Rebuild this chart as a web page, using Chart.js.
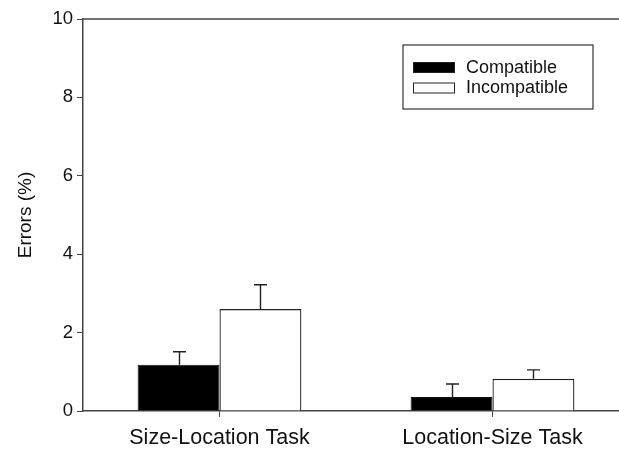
<!DOCTYPE html>
<html>
<head>
<meta charset="utf-8">
<script src="https://cdn.jsdelivr.net/npm/chart.js@4.4.1/dist/chart.umd.min.js"></script>
<style>
  html, body { margin: 0; padding: 0; background: #fff; overflow: hidden; }
  #wrap { width: 630px; height: 450px; position: relative; }
</style>
</head>
<body>
<div id="wrap"><canvas id="c" width="630" height="450"></canvas></div>
<script>
const categories = ['Size-Location Task', 'Location-Size Task'];
const seriesNames = ['Compatible', 'Incompatible'];
const compatible = [1.18, 0.36];
const incompatible = [2.60, 0.82];
const compatibleErr = [0.33, 0.33];
const incompatibleErr = [0.62, 0.23];
const yTicks = [0, 2, 4, 6, 8, 10];

const FONT = "'Liberation Sans', Arial, sans-serif";
const AXIS = '#444';

const errorBars = {
  id: 'errorBars',
  afterDatasetsDraw(chart) {
    const ctx = chart.ctx;
    const y = chart.scales.y;
    ctx.save();
    ctx.strokeStyle = '#222';
    ctx.lineWidth = 1.4;
    chart.data.datasets.forEach((ds, di) => {
      const meta = chart.getDatasetMeta(di);
      meta.data.forEach((bar, i) => {
        const top = y.getPixelForValue(ds.data[i] + ds.errors[i]);
        const x = Math.round(bar.x) + 0.5;
        ctx.beginPath();
        ctx.moveTo(x, bar.y);
        ctx.lineTo(x, top);
        ctx.moveTo(x - 6.5, top);
        ctx.lineTo(x + 6.5, top);
        ctx.stroke();
      });
    });
    ctx.restore();
  }
};

const frameAndLegend = {
  id: 'frameAndLegend',
  afterDraw(chart) {
    const ctx = chart.ctx;
    const a = chart.chartArea;
    ctx.save();
    // top frame line
    ctx.strokeStyle = AXIS;
    ctx.lineWidth = 1.5;
    ctx.beginPath();
    ctx.moveTo(a.left, a.top);
    ctx.lineTo(chart.width, a.top);
    ctx.stroke();
    // legend box
    ctx.strokeStyle = '#333';
    ctx.lineWidth = 1.2;
    ctx.strokeRect(403, 45, 190, 64);
    ctx.font = '18px ' + FONT;
    ctx.textBaseline = 'middle';
    chart.data.datasets.forEach((ds, i) => {
      const yy = 62 + i * 20.5;
      ctx.fillStyle = ds.backgroundColor;
      ctx.fillRect(413, yy, 42, 11);
      ctx.strokeStyle = '#222';
      ctx.lineWidth = 1;
      ctx.strokeRect(413.5, yy + 0.5, 41, 10);
      ctx.fillStyle = '#111';
      ctx.fillText(ds.label, 466, yy + 6);
    });
    ctx.restore();
  }
};

new Chart(document.getElementById('c'), {
  type: 'bar',
  data: {
    labels: categories,
    datasets: [
      { label: seriesNames[0], data: compatible, errors: compatibleErr,
        backgroundColor: '#000000', borderColor: '#111', borderWidth: 1 },
      { label: seriesNames[1], data: incompatible, errors: incompatibleErr,
        backgroundColor: '#ffffff', borderColor: '#222', borderWidth: 1.3 }
    ]
  },
  options: {
    responsive: false,
    animation: false,
    devicePixelRatio: 1,
    layout: { padding: { top: 19, right: 1, left: 0, bottom: 0 } },
    datasets: { bar: { categoryPercentage: 0.6, barPercentage: 1.0 } },
    plugins: { legend: { display: false }, tooltip: { enabled: false } },
    scales: {
      x: {
        type: 'category',
        offset: true,
        grid: { offset: false, drawOnChartArea: false, drawTicks: true, tickLength: 6, color: AXIS, lineWidth: 1 },
        border: { color: AXIS, width: 1.5 },
        ticks: { color: '#111', font: { family: FONT, size: 21.5 }, padding: 8, maxRotation: 0 },
        afterFit(s) { s.height = 39; }
      },
      y: {
        min: 0, max: 10,
        afterBuildTicks(s) { s.ticks = yTicks.map(v => ({ value: v })); },
        grid: { drawOnChartArea: false, drawTicks: true, tickLength: 6, color: AXIS, lineWidth: 1 },
        border: { color: AXIS, width: 1.5 },
        ticks: { color: '#111', font: { family: FONT, size: 18.5 }, padding: 4 },
        title: { display: true, text: 'Errors (%)', color: '#111', font: { family: FONT, size: 19 }, padding: { top: 14, bottom: 0 } },
        afterFit(s) { s.width = 83; }
      }
    }
  },
  plugins: [errorBars, frameAndLegend]
});
</script>
</body>
</html>
